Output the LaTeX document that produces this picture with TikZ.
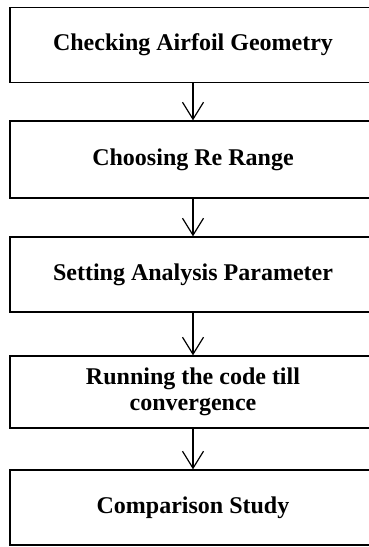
\documentclass[tikz,border=0pt]{standalone}
\usepackage{fontspec}
\setmainfont{Liberation Serif}
\usetikzlibrary{arrows.meta}

\tikzset{
  stepbox/.style={draw=black, line width=1.3pt, inner sep=0pt,
    minimum width=366pt, align=center,
    font=\bfseries\fontsize{24}{25.5}\selectfont},
  flow/.style={draw=black, line width=1.2pt,
    -{Straight Barb[length=17pt,width=21pt,line width=1.2pt]}}
}

\begin{document}
\begin{tikzpicture}[x=1pt,y=-1pt]
  \clip (0,0) rectangle (369,547);
  \fill[white] (0,0) rectangle (369,547);

  \node[stepbox, minimum height=75pt] (b1) at (193,45)    {Checking Airfoil Geometry};
  \node[stepbox, minimum height=77pt] (b2) at (193,159.5) {Choosing Re Range};
  \node[stepbox, minimum height=75pt] (b3) at (193,274.5) {Setting Analysis Parameter};
  \node[stepbox, minimum height=72pt] (b4) at (193,392)   {Running the code till\\convergence};
  \node[stepbox, minimum height=75pt] (b5) at (193,507.5) {Comparison Study};

  \draw[flow] (b1.south) -- (b2.north);
  \draw[flow] (b2.south) -- (b3.north);
  \draw[flow] (b3.south) -- (b4.north);
  \draw[flow] (b4.south) -- (b5.north);
\end{tikzpicture}
\end{document}
